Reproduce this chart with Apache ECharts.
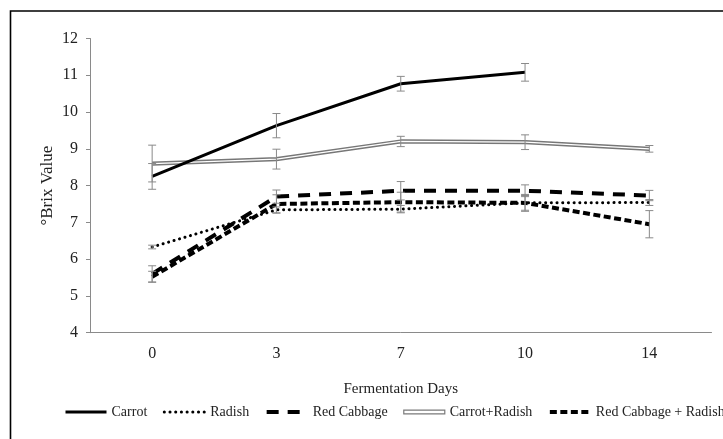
<!DOCTYPE html>
<html>
<head>
<meta charset="utf-8">
<script src="https://cdn.jsdelivr.net/npm/echarts@6/dist/echarts.min.js"></script>
<style>
  html, body { margin: 0; padding: 0; background: #fff; }
  #chart { width: 723px; height: 439px; }
</style>
</head>
<body>
<div id="chart"></div>
<script>
// Fermentation days (category axis)
const days = ['0', '3', '7', '10', '14'];

// Mean °Brix per treatment (null = not measured)
const carrot            = [8.25, 9.63, 10.77, 11.08, null];
const radish            = [6.33, 7.34, 7.36, 7.53, 7.54];
const redCabbage        = [5.60, 7.70, 7.86, 7.86, 7.73];
const carrotRadish      = [8.60, 8.72, 9.20, 9.18, 9.00];
const redCabbageRadish  = [5.52, 7.50, 7.55, 7.53, 6.95];

// Standard deviations for the error bars
const carrotErr           = [0.35, 0.33, 0.20, 0.24, null];
const radishErr           = [0.05, 0.08, 0.10, 0.20, 0.08];
const redCabbageErr       = [0.22, 0.18, 0.25, 0.16, 0.14];
const carrotRadishErr     = [0.50, 0.27, 0.14, 0.20, 0.09];
const redCabbageRadishErr = [0.15, 0.25, 0.27, 0.23, 0.37];

// Y axis range
const yMin = 4, yMax = 12, yStep = 1;

const serif = '"Liberation Serif", "DejaVu Serif", serif';

function errorData(means, errs) {
  const out = [];
  means.forEach((m, i) => {
    if (m != null && errs[i] != null) out.push([i, m - errs[i], m + errs[i]]);
  });
  return out;
}

function errorSeries(means, errs) {
  return {
    type: 'custom',
    silent: true,
    z: 5,
    data: errorData(means, errs),
    renderItem: function (params, api) {
      const lo = api.coord([api.value(0), api.value(1)]);
      const hi = api.coord([api.value(0), api.value(2)]);
      const w = 4;
      const style = { stroke: '#8a8a8a', lineWidth: 1, fill: null };
      return {
        type: 'group',
        children: [
          { type: 'line', shape: { x1: hi[0], y1: hi[1], x2: lo[0], y2: lo[1] }, style: style },
          { type: 'line', shape: { x1: hi[0] - w, y1: hi[1], x2: hi[0] + w, y2: hi[1] }, style: style },
          { type: 'line', shape: { x1: lo[0] - w, y1: lo[1], x2: lo[0] + w, y2: lo[1] }, style: style }
        ]
      };
    }
  };
}

function lineSeries(name, data, lineStyle, z) {
  return {
    name: name,
    type: 'line',
    data: data,
    symbol: 'none',
    z: z || 2,
    connectNulls: false,
    lineStyle: lineStyle,
    itemStyle: { color: lineStyle.color },
    emphasis: { disabled: true }
  };
}

const chart = echarts.init(document.getElementById('chart'), null, { renderer: 'canvas' });

const option = {
  animation: false,
  backgroundColor: '#fff',
  graphic: [{
    type: 'rect',
    shape: { x: 10.5, y: 11, width: 730, height: 460 },
    style: { fill: null, stroke: '#000', lineWidth: 1.6 },
    silent: true,
    z: 0
  }],
  grid: { left: 90, right: 11.5, top: 38.5, bottom: 106.3, containLabel: false },
  legend: {
    left: 64,
    top: 405,
    width: 680,
    padding: 0,
    itemWidth: 41,
    itemHeight: 14,
    itemGap: 15.5,
    itemStyle: { opacity: 0 },
    textStyle: { fontFamily: serif, fontSize: 14, color: '#222' },
    data: [
      { name: 'Carrot', lineStyle: { width: 3 } },
      { name: 'Radish', lineStyle: { width: 3 } },
      { name: 'Red Cabbage', lineStyle: { width: 4 } },
      { name: 'Carrot+Radish', icon: 'path://M0,0H42V4H0Z',
        itemStyle: { opacity: 1, color: '#fff', borderColor: '#7a7a7a', borderWidth: 1.2 } },
      { name: 'Red Cabbage + Radish', lineStyle: { width: 4 } }
    ]
  },
  xAxis: {
    type: 'category',
    data: days,
    boundaryGap: true,
    name: 'Fermentation Days',
    nameLocation: 'middle',
    nameGap: 49,
    nameTextStyle: { fontFamily: serif, fontSize: 15, color: '#222' },
    axisLine: { lineStyle: { color: '#8a8a8a', width: 1 } },
    axisTick: { show: false },
    axisLabel: { fontFamily: serif, fontSize: 16, color: '#222', margin: 13 },
    splitLine: { show: false }
  },
  yAxis: {
    type: 'value',
    min: yMin,
    max: yMax,
    interval: yStep,
    name: '°Brix Value',
    nameLocation: 'middle',
    nameGap: 34,
    nameMoveOverlap: false,
    nameRotate: 90,
    nameTextStyle: { fontFamily: serif, fontSize: 17, color: '#222' },
    axisLine: { show: true, lineStyle: { color: '#8a8a8a', width: 1 } },
    axisTick: { show: true, inside: false, length: 4, lineStyle: { color: '#8a8a8a' } },
    axisLabel: { fontFamily: serif, fontSize: 16, color: '#222', margin: 12 },
    splitLine: { show: false }
  },
  series: [
    lineSeries('Carrot', carrot, { color: '#000', width: 3, type: 'solid' }, 4),
    lineSeries('Radish', radish, { color: '#000', width: 3, type: [0.1, 5.6], cap: 'round' }, 2),
    lineSeries('Red Cabbage', redCabbage, { color: '#000', width: 4, type: [12, 9] }, 2),
    lineSeries('Carrot+Radish', carrotRadish, { color: '#777', width: 4.2, type: 'solid' }, 3),
    {
      name: 'Carrot+Radish',
      type: 'line',
      data: carrotRadish,
      symbol: 'none',
      z: 3,
      lineStyle: { color: '#fff', width: 1.3 },
      itemStyle: { color: '#fff' },
      emphasis: { disabled: true }
    },
    lineSeries('Red Cabbage + Radish', redCabbageRadish, { color: '#000', width: 4, type: [7, 3.5] }, 2),
    errorSeries(carrot, carrotErr),
    errorSeries(radish, radishErr),
    errorSeries(redCabbage, redCabbageErr),
    errorSeries(carrotRadish, carrotRadishErr),
    errorSeries(redCabbageRadish, redCabbageRadishErr)
  ]
};

chart.setOption(option);
</script>
</body>
</html>
